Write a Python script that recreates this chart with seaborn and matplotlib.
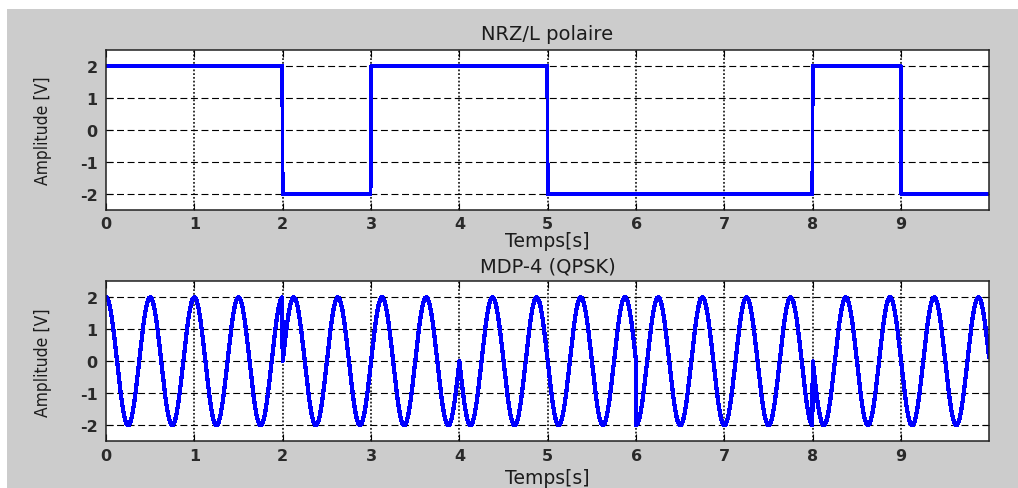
import numpy as np
import pandas as pd
import matplotlib
matplotlib.use("Agg")
import matplotlib.pyplot as plt
from matplotlib.patches import Rectangle
from matplotlib import font_manager
import seaborn as sns

# Message bits (one bit per second)
bits = [1, 1, 0, 1, 1, 0, 0, 0, 1, 0]
bit_time = 1.0            # s
nrz_amp = 2.0             # V

# QPSK: carrier, amplitude and carrier phase (degrees) of each dibit
carrier_freq = 2.0        # Hz
qpsk_amp = 2.0            # V
dibit_phase = {(1, 1): 0.0, (0, 1): -90.0, (0, 0): 180.0, (1, 0): 90.0}

x_ticks = [0, 1, 2, 3, 4, 5, 6, 7, 8, 9]
y_ticks = [-2, -1, 0, 1, 2]
titles = ["NRZ/L polaire", "MDP-4 (QPSK)"]
x_label = "Temps[s]"
y_label = "Amplitude [V]"

# ---- signals -------------------------------------------------------------
dt = 0.005
t = np.arange(0, len(bits) * bit_time, dt)
idx = np.minimum((t // bit_time).astype(int), len(bits) - 1)
levels = np.array([nrz_amp if b else -nrz_amp for b in bits])
nrz = levels[idx]

sym_time = 2 * bit_time
sym_idx = np.minimum((t // sym_time).astype(int), len(bits) // 2 - 1)
phases = np.array([dibit_phase[(bits[2 * k], bits[2 * k + 1])]
                   for k in range(len(bits) // 2)])
qpsk = qpsk_amp * np.cos(2 * np.pi * carrier_freq * t + np.deg2rad(phases[sym_idx]))

df_nrz = pd.DataFrame({"t": t, "v": nrz})
df_qpsk = pd.DataFrame({"t": t, "v": qpsk})

# ---- figure --------------------------------------------------------------
sns.set_theme(style="white")
plt.rcParams["font.family"] = ["DejaVu Sans"]
plt.rcParams["lines.scale_dashes"] = False

# narrow face for the rotated axis label, if one is available
font_names = {f.name for f in font_manager.fontManager.ttflist}
if "Liberation Sans Narrow" in font_names:
    ylab_font = dict(family="Liberation Sans Narrow", size=14)
else:
    ylab_font = dict(family="DejaVu Sans", stretch="condensed", size=12.5)

W, H = 1018, 489
fig = plt.figure(figsize=(W / 100, H / 100), dpi=100, facecolor="white")
fig.add_artist(Rectangle((7 / W, 0), 1 - 7 / W, 1 - 10 / H,
                         transform=fig.transFigure, facecolor="#cccccc",
                         edgecolor="none", zorder=-10))

ax_left = 106 / W
ax_width = (989 - 106) / W
ax_height = 160 / H
ax1 = fig.add_axes([ax_left, 1 - 211 / H, ax_width, ax_height])
ax2 = fig.add_axes([ax_left, 1 - 442.3 / H, ax_width, ax_height])

sns.lineplot(data=df_nrz, x="t", y="v", ax=ax1, color="#0000ff",
             linewidth=2.0, estimator=None, sort=False, antialiased=False)
sns.lineplot(data=df_qpsk, x="t", y="v", ax=ax2, color="#0000ff",
             linewidth=2.3, estimator=None, sort=False, antialiased=False)

text_col = "#1c1c1c"
label_y = [-0.133, -0.168]
title_pad = [7.6, 7.2]
for ax, title, ly, tp in zip((ax1, ax2), titles, label_y, title_pad):
    ax.set_facecolor("white")
    ax.set_xlim(0, t[-1])
    ax.set_ylim(-2.5, 2.5)
    ax.set_xticks(x_ticks)
    ax.set_yticks(y_ticks)
    ax.set_xticklabels([str(v) for v in x_ticks], fontsize=11.5,
                       fontweight="bold", color="#2a2a2a")
    ax.set_yticklabels([str(v) for v in y_ticks], fontsize=11.5,
                       fontweight="bold", color="#2a2a2a")
    ax.tick_params(direction="in", length=5, width=0.8, color="black",
                   top=True, right=True, bottom=True, left=True, pad=4.5)
    ax.tick_params(axis="y", pad=6)
    for sp in ax.spines.values():
        sp.set_visible(True)
        sp.set_color("#202020")
        sp.set_linewidth(1.1)
    # grid: dashed horizontal, dotted vertical
    ax.grid(False)
    for yv in y_ticks:
        ax.axhline(yv, color="black", linewidth=0.8,
                   linestyle=(0, (5, 2.6)), zorder=0.5)
    for xv in x_ticks[1:]:
        ax.axvline(xv, color="black", linewidth=1.1,
                   linestyle=(0, (1.3, 1.4)), zorder=0.5)
    ax.set_title(title, fontsize=14, color=text_col, pad=tp)
    ax.set_xlabel(x_label, fontsize=13.5, color=text_col)
    ax.xaxis.set_label_coords(0.5, ly)
    ax.set_ylabel(y_label, color=text_col, **ylab_font)
    ax.yaxis.set_label_coords(-0.061, 0.5)

fig.savefig("out.png", dpi=100, facecolor=fig.get_facecolor())
